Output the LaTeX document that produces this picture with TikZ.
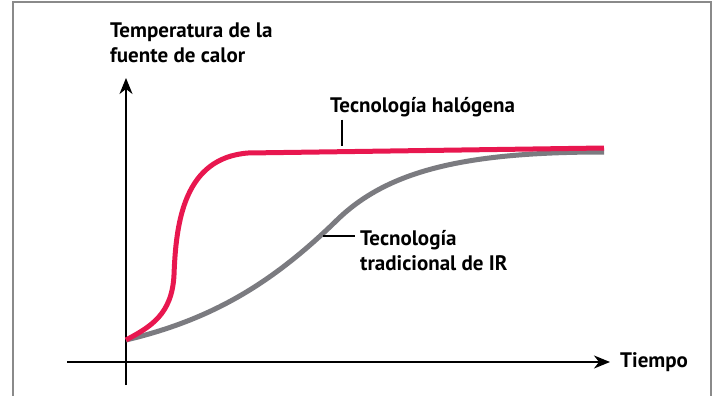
\documentclass[tikz,border=0pt]{standalone}
\usepackage{fontspec}
\setmainfont{PT Sans}
\usetikzlibrary{arrows.meta}
\definecolor{halored}{HTML}{E8174F}
\definecolor{irgray}{HTML}{7B7B80}
\definecolor{framegray}{HTML}{8A8A8A}

\begin{document}
\begin{tikzpicture}[x=1pt, y=-1pt,
                lbl/.style={font=\bfseries\fontsize{21}{25}\selectfont, inner sep=0pt, align=left, anchor=base west},
                axis/.style={line width=2pt, -{Stealth[length=16pt, width=13pt, inset=5pt]}},
                curve/.style={line width=5pt},
                leader/.style={line width=1.6pt}]
                \useasboundingbox (0,0) rectangle (718,396);
                \draw[framegray, line width=2pt] (13,396) -- (13,2.5) -- (711,2.5) -- (711,396);
                \coordinate (yfoot) at (126,385);
                \coordinate (ytip) at (126,78);
                \coordinate (xfoot) at (67,362);
                \coordinate (xtip) at (610,362);
                \coordinate (start) at (126,340);
                \coordinate (halTip) at (342,146);
                \coordinate (irTip) at (323,236);
                \draw[axis] (yfoot) -- (ytip);
                \draw[axis] (xfoot) -- (xtip);
                \node[lbl] (ylabel) at (110,63) {Temperatura de la\\fuente de calor};
                \node[lbl] (xlabel) at (620,367) {Tiempo};
                \node[lbl] (hal) at (330,112) {Tecnología halógena};
                \node[lbl] (ir) at (360,270) {Tecnología\\tradicional de IR};
                \draw[irgray, curve] (start) .. controls (210,320) and (270,285) .. (335,222)
                    .. controls (385,172) and (460,152) .. (604,152);
                \draw[halored, curve] (start) .. controls (150,327) and (172,315) .. (174,275)
                    .. controls (176,222) and (184,158) .. (248,153) -- (604,148);
                \draw[leader] (halTip |- hal.south) ++(0,3) -- (halTip);
                \coordinate (irEnd) at ([xshift=-5pt]ir.west);
                \draw[leader] (irTip) -- (irEnd |- irTip);
\end{tikzpicture}
\end{document}
